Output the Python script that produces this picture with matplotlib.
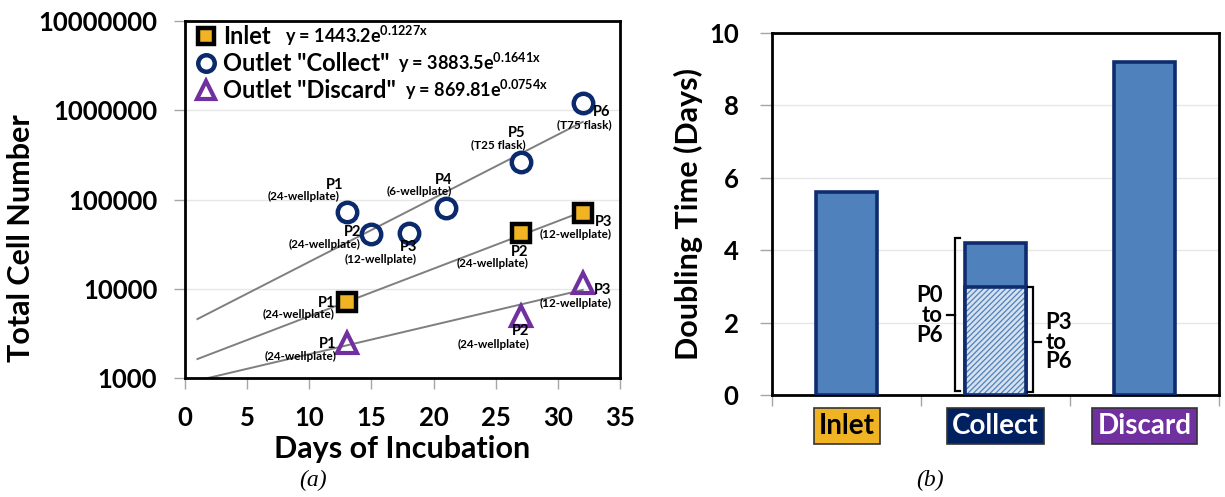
import numpy as np
import matplotlib
matplotlib.use("Agg")
import matplotlib.pyplot as plt
from matplotlib.ticker import FixedLocator, FixedFormatter, NullFormatter

plt.rcParams['font.family'] = ['Lato', 'DejaVu Sans']
plt.rcParams['font.weight'] = 'bold'
plt.rcParams['mathtext.fontset'] = 'custom'
plt.rcParams['mathtext.rm'] = 'Lato:bold'
plt.rcParams['mathtext.default'] = 'rm'
plt.rcParams['hatch.linewidth'] = 0.9

# ---------------- data: panel (a) ----------------
inlet_days = [13, 27, 32]
inlet_cells = [7110, 42200, 70600]
inlet_pass = ["P1", "P2", "P3"]
inlet_vessel = ["(24-wellplate)", "(24-wellplate)", "(12-wellplate)"]

collect_days = [13, 15, 18, 21, 27, 32]
collect_cells = [72500, 41000, 42200, 80400, 263000, 1205000]
collect_pass = ["P1", "P2", "P3", "P4", "P5", "P6"]
collect_vessel = ["(24-wellplate)", "(24-wellplate)", "(12-wellplate)",
                  "(6-wellplate)", "(T25 flask)", "(T75 flask)"]

discard_days = [13, 27, 32]
discard_cells = [2470, 4950, 11590]
discard_pass = ["P1", "P2", "P3"]
discard_vessel = ["(24-wellplate)", "(24-wellplate)", "(12-wellplate)"]

# exponential trendline coefficients shown in the legend: y = A e^(k x)
inlet_fit = (1443.2, 0.1227)
collect_fit = (3883.5, 0.1641)
discard_fit = (869.81, 0.0754)
fit_days = [1, 32]

series_names = ["Inlet", 'Outlet "Collect"', 'Outlet "Discard"']
fit_labels = ["y = 1443.2e$^{0.1227x}$", "y = 3883.5e$^{0.1641x}$",
              "y = 869.81e$^{0.0754x}$"]

# ---------------- data: panel (b) ----------------
groups = ["Inlet", "Collect", "Discard"]
doubling = [5.6, 4.2, 9.2]
collect_p3_p6 = 2.98

# ---------------- figure ----------------
W, H = 1225, 497
fig = plt.figure(figsize=(W / 100, H / 100), dpi=100)

def ax_rect(x0, y0, x1, y1):
    return [x0 / W, 1 - y1 / H, (x1 - x0) / W, (y1 - y0) / H]

ax = fig.add_axes(ax_rect(185, 21, 620, 378))
ax2 = fig.add_axes(ax_rect(772, 33, 1219, 395))

ORANGE = "#F0B323"
NAVY = "#0B2A6B"
PURPLE = "#7030A0"
GRAY = "#7F7F7F"

# trendlines
xf = np.linspace(fit_days[0], fit_days[1], 100)
for A, k in (collect_fit, inlet_fit, discard_fit):
    ax.plot(xf, A * np.exp(k * xf), color=GRAY, lw=1.4, zorder=2)

h1, = ax.plot(inlet_days, inlet_cells, ls='none', marker='s', ms=13,
              mfc=ORANGE, mec='black', mew=3.2, zorder=4)
h2, = ax.plot(collect_days, collect_cells, ls='none', marker='o', ms=14,
              mfc='none', mec=NAVY, mew=3.2, zorder=4)
h3, = ax.plot(discard_days, discard_cells, ls='none', marker='^', ms=15,
              mfc='none', mec=PURPLE, mew=3.0, zorder=4)

ax.set_yscale('log')
ax.set_ylim(1000, 1e7)
ax.set_xlim(0, 35)
ax.set_xticks(np.arange(0, 36, 5))
ax.yaxis.set_major_locator(FixedLocator([1e3, 1e4, 1e5, 1e6, 1e7]))
ax.yaxis.set_major_formatter(FixedFormatter(["1000", "10000", "100000", "1000000", "10000000"]))
ax.yaxis.set_minor_locator(FixedLocator([]))
ax.yaxis.set_minor_formatter(NullFormatter())
ax.grid(axis='y', color='#E6E6E6', lw=1.0, zorder=0)
ax.tick_params(axis='both', labelsize=18.5, length=8, width=1, color='#A6A6A6', pad=12)
for s in ax.spines.values():
    s.set_linewidth(2)
    s.set_color('black')
ax.set_xlabel("Days of Incubation", fontsize=22, fontweight='bold', labelpad=4)
ax.set_ylabel("Total Cell Number", fontsize=22, fontweight='bold', labelpad=4)
ax.yaxis.set_label_coords(-0.345, 0.392)

# point annotations: (dx, dy) pixel offsets, screen-down positive
off_collect = [((-12, -27), (-43, -15)), ((-19, -2), (-47, 10)), ((0, 14), (-28, 27)),
               ((-2, -28), (-27, -16)), ((-4, -29), (-22, -17)), ((19, 9), (2, 22))]
off_inlet = [((-20, 1), (-48, 13)), ((-1, 19), (-28, 31)), ((21, 9), (-7, 21))]
off_discard = [((-19, 1), (-46, 14)), ((0, 15), (-27, 28)), ((20, 7), (-7, 20))]

def annotate(days, cells, passes, vessels, offs):
    for x, y, p, v, (po, vo) in zip(days, cells, passes, vessels, offs):
        ax.annotate(p, (x, y), xytext=(po[0], -po[1]), textcoords='offset pixels',
                    ha='center', va='center', fontsize=10.5, fontweight='bold', zorder=5)
        ax.annotate(v, (x, y), xytext=(vo[0], -vo[1]), textcoords='offset pixels',
                    ha='center', va='center', fontsize=8.5, fontweight='bold', zorder=5)

annotate(collect_days, collect_cells, collect_pass, collect_vessel, off_collect)
annotate(inlet_days, inlet_cells, inlet_pass, inlet_vessel, off_inlet)
annotate(discard_days, discard_cells, discard_pass, discard_vessel, off_discard)

leg = ax.legend([h1, h2, h3], series_names, loc='upper left', bbox_to_anchor=(-0.008, 1.035),
                frameon=False, fontsize=17, handlelength=0.7, handletextpad=0.35,
                labelspacing=0.17, borderaxespad=0.3, markerscale=0.85)
for t in leg.get_texts():
    t.set_fontweight('bold')

eq_pos = [(0.230, 0.959), (0.490, 0.882), (0.506, 0.807)]
for lab, (ex, ey) in zip(fit_labels, eq_pos):
    ax.text(ex, ey, lab, transform=ax.transAxes, fontsize=13, fontweight='bold',
            ha='left', va='center')

# ---------------- panel (b) ----------------
BAR = "#4F81BD"
EDGE = "#0E2C6E"
xpos = np.arange(len(groups))
BW = 0.41
ax2.bar(xpos, doubling, width=BW, color=BAR, edgecolor=EDGE, linewidth=2.6, zorder=3)
ax2.bar([xpos[1]], [collect_p3_p6], width=BW, color='#D6E1EE', edgecolor=BAR,
        hatch='//////', linewidth=0, zorder=4)
ax2.bar([xpos[1]], [collect_p3_p6], width=BW, color='none', edgecolor=EDGE,
        linewidth=2.6, zorder=5)
ax2.set_xlim(-0.5, 2.5)
ax2.set_ylim(0, 10)
ax2.set_yticks(np.arange(0, 11, 2))
ax2.grid(axis='y', color='#E6E6E6', lw=1.0, zorder=0)
ax2.set_xticks(xpos)
ax2.set_xticks([-0.5, 0.5, 1.5, 2.5], minor=True)
ax2.tick_params(axis='y', labelsize=18.5, length=9, width=1, color='#A6A6A6', pad=15)
ax2.tick_params(axis='x', which='major', length=0, pad=13)
ax2.tick_params(axis='x', which='minor', length=8, width=1, color='#A6A6A6')
ax2.set_xticklabels(groups, fontsize=20, fontweight='bold')
box_styles = [(ORANGE, 'black'), ("#002060", 'white'), (PURPLE, 'white')]
for lbl, (fc, tc) in zip(ax2.get_xticklabels(), box_styles):
    lbl.set_color(tc)
    lbl.set_bbox(dict(boxstyle='square,pad=0.18', fc=fc, ec='#333333', lw=1.2))
for s in ax2.spines.values():
    s.set_linewidth(2)
    s.set_color('black')
ax2.set_ylabel("Doubling Time (Days)", fontsize=22, fontweight='bold', labelpad=4)

# brackets
def bracket(x, y0, y1, serif, tick, ym):
    ax2.plot([x + serif, x, x, x + serif], [y0, y0, y1, y1], color='black', lw=1.6,
             zorder=6, clip_on=False, solid_joinstyle='miter')
    ax2.plot([x, x + tick], [ym, ym], color='black', lw=1.6, zorder=6)

bracket(0.728, 0.1, doubling[1] + 0.13, 0.035, -0.055, 2.2)
ax2.text(0.645, 2.2, "P0\nto\nP6", ha='right', va='center', fontsize=16,
         fontweight='bold', linespacing=0.92)
bracket(1.252, 0.08, collect_p3_p6, -0.035, 0.055, 1.46)
ax2.text(1.335, 1.46, "P3\nto\nP6", ha='left', va='center', fontsize=16,
         fontweight='bold', linespacing=0.92)

# panel captions
fig.text(313 / W, 1 - 480 / H, "(a)", family='Liberation Serif', style='italic',
         fontweight='normal', fontsize=17, ha='center', va='center')
fig.text(930 / W, 1 - 480 / H, "(b)", family='Liberation Serif', style='italic',
         fontweight='normal', fontsize=17, ha='center', va='center')

fig.savefig("out.png", dpi=100)
